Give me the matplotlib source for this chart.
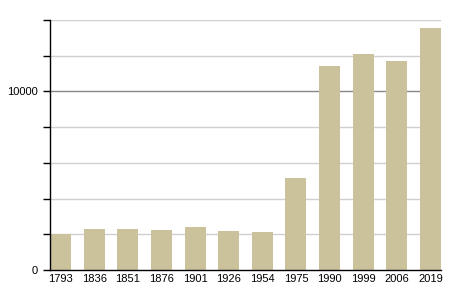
import matplotlib
matplotlib.use("Agg")
import matplotlib.pyplot as plt
import numpy as np

years = ["1793", "1836", "1851", "1876", "1901", "1926", "1954", "1975", "1990", "1999", "2006", "2019"]
population = [2020, 2300, 2300, 2250, 2420, 2210, 2140, 5170, 11400, 12080, 11720, 13540]
ytick_labels = {0: "0", 10000: "10000"}

plt.rcParams['font.family'] = ['Liberation Sans', 'DejaVu Sans']

fig = plt.figure(figsize=(4.5, 3), dpi=100)
ax = fig.add_axes([50/450, 30/300, 391/450, 250/300])

x = np.arange(len(years))
ax.bar(x, population, width=0.625, color="#cbc29c", zorder=3)

ax.set_xlim(-0.3125, len(years) - 1 + 0.3125)
ax.set_ylim(0, 14000)

yt = np.arange(0, 14001, 2000)
ax.set_yticks(yt)
ax.set_yticklabels([ytick_labels.get(v, "") for v in yt], fontsize=8)
for v in yt[1:]:
    if v == 10000:
        ax.axhline(v, color="#888888", lw=1, zorder=1)
    else:
        ax.axhline(v, color="#d0d0d0", lw=1, zorder=1)

ax.set_xticks(x)
ax.set_xticklabels(years, fontsize=8)
ax.tick_params(axis='x', length=0, pad=3)
ax.tick_params(axis='y', length=5, width=1, pad=4, direction='out')

for s in ["top", "right"]:
    ax.spines[s].set_visible(False)
ax.spines["left"].set_linewidth(1)
ax.spines["bottom"].set_linewidth(1)
ax.spines["left"].set_zorder(4)
ax.spines["bottom"].set_zorder(4)

fig.savefig("out.png", dpi=100)
